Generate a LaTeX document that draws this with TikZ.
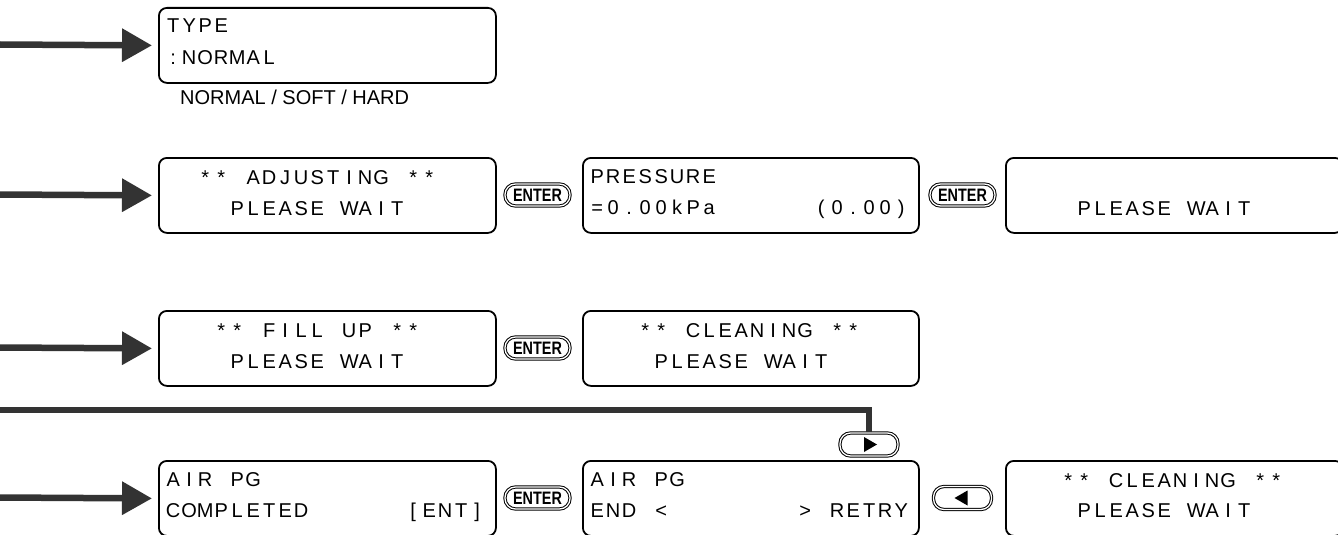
\documentclass[tikz,border=0pt]{standalone}
\usepackage{fontspec}
\usepackage{graphicx}
\setmainfont{Liberation Sans}
\usetikzlibrary{arrows.meta}
\definecolor{feedgray}{HTML}{333333}
\newcommand\lcdfont{\fontsize{20pt}{20pt}\selectfont}
\ExplSyntaxOn
\NewDocumentCommand\lcd{m}{
  \str_map_inline:nn {#1}
   { \str_if_eq:nnTF {##1} {_} { \hbox_to_wd:nn {16pt} {} } { \hbox_to_wd:nn {16pt} { \hss ##1 \hss } } }
}
\ExplSyntaxOff
\tikzset{
  lcdbox/.style={draw=black, line width=1.8pt, rounded corners=8pt, minimum width=337pt, minimum height=75pt, anchor=north west, inner sep=0pt},
  lcdtxt/.style={anchor=base west, inner sep=0pt, font=\lcdfont},
  keybox/.style={draw=black, line width=1pt, double=white, double distance=1.3pt, rounded corners=10.5pt, inner sep=0pt},
  enterkey/.style={keybox, minimum width=65pt, minimum height=22pt, font=\bfseries\fontsize{18pt}{18pt}\selectfont},
  arrowkey/.style={keybox, minimum width=58pt, minimum height=23pt},
  feed/.style={line width=6.5pt, draw=feedgray, -{Triangle[length=30pt, width=32pt]}},
  route/.style={line width=6.5pt, draw=feedgray, line join=miter},
}
\newcommand\enterlabel{\scalebox{0.8}[1]{ENTER}}
\begin{document}
\begin{tikzpicture}[x=1pt, y=-1pt]
\useasboundingbox (0,0) rectangle (1338,535);
\clip (0,0) rectangle (1338,535);

% ---- row 1
\node[lcdbox] (r1a) at (158,7) {};
\node[lcdtxt] (r1a1) at ([xshift=7pt, yshift=-26pt]r1a.north west) {\lcd{TYPE}};
\node[lcdtxt] (r1a2) at ([xshift=7pt, yshift=-57pt]r1a.north west) {\lcd{:NORMAL}};
\node[anchor=base west, inner sep=0pt, font=\fontsize{20pt}{20pt}\selectfont] (opts) at (180,104) {NORMAL / SOFT / HARD};

% ---- row 2
\node[lcdbox] (r2a) at (158,157) {};
\node[lcdtxt] (r2a1) at ([xshift=7pt, yshift=-27pt]r2a.north west) {\lcd{__** ADJUSTING **}};
\node[lcdtxt] (r2a2) at ([xshift=7pt, yshift=-58pt]r2a.north west) {\lcd{____PLEASE WAIT}};
\node[enterkey] (e21) at (537.5,195) {\enterlabel};
\node[lcdbox, minimum width=336pt] (r2b) at (582,157) {};
\node[lcdtxt] (r2b1) at ([xshift=7pt, yshift=-26pt]r2b.north west) {\lcd{PRESSURE}};
\node[lcdtxt] (r2b2) at ([xshift=7pt, yshift=-57pt]r2b.north west) {\lcd{=0.00kPa______(0.00)}};
\node[enterkey] (e22) at (962.5,195) {\enterlabel};
\node[lcdbox] (r2c) at (1005,157) {};
\node[lcdtxt] (r2c2) at ([xshift=7pt, yshift=-58pt]r2c.north west) {\lcd{____PLEASE WAIT}};

% ---- row 3
\node[lcdbox] (r3a) at (158,310) {};
\node[lcdtxt] (r3a1) at ([xshift=7pt, yshift=-27pt]r3a.north west) {\lcd{___** FILL UP **}};
\node[lcdtxt] (r3a2) at ([xshift=7pt, yshift=-58pt]r3a.north west) {\lcd{____PLEASE WAIT}};
\node[enterkey] (e31) at (537.5,348) {\enterlabel};
\node[lcdbox, minimum width=336pt] (r3b) at (582,310) {};
\node[lcdtxt] (r3b1) at ([xshift=7pt, yshift=-27pt]r3b.north west) {\lcd{___** CLEANING **}};
\node[lcdtxt] (r3b2) at ([xshift=7pt, yshift=-58pt]r3b.north west) {\lcd{____PLEASE WAIT}};

% ---- row 4
\node[lcdbox] (r4a) at (158,460) {};
\node[lcdtxt] (r4a1) at ([xshift=7pt, yshift=-26pt]r4a.north west) {\lcd{AIR PG}};
\node[lcdtxt] (r4a2) at ([xshift=7pt, yshift=-57pt]r4a.north west) {\lcd{COMPLETED______[ENT]}};
\node[enterkey] (e41) at (537.5,498) {\enterlabel};
\node[lcdbox, minimum width=336pt] (r4b) at (582,460) {};
\node[lcdtxt] (r4b1) at ([xshift=7pt, yshift=-26pt]r4b.north west) {\lcd{AIR PG}};
\node[lcdtxt] (r4b2) at ([xshift=7pt, yshift=-57pt]r4b.north west) {\lcd{END <________> RETRY}};
\node[arrowkey] (kl) at (962.5,498) {};
\fill ([xshift=5pt, yshift=7.5pt]kl.center) -- ([xshift=5pt, yshift=-7.5pt]kl.center) -- ([xshift=-8pt]kl.center) -- cycle;
\node[lcdbox] (r4c) at (1005,460) {};
\node[lcdtxt] (r4c1) at ([xshift=7pt, yshift=-27pt]r4c.north west) {\lcd{___** CLEANING **}};
\node[lcdtxt] (r4c2) at ([xshift=7pt, yshift=-57pt]r4c.north west) {\lcd{____PLEASE WAIT}};
\node[arrowkey] (kr) at (869,444.5) {};
\fill ([xshift=-5pt, yshift=7.5pt]kr.center) -- ([xshift=-5pt, yshift=-7.5pt]kr.center) -- ([xshift=8pt]kr.center) -- cycle;

% ---- feed arrows
\coordinate (s1) at (0,44.5);
\coordinate (s2) at (0,194.5);
\coordinate (s3) at (0,347.5);
\coordinate (s4) at (0,497.5);
\coordinate (s5) at (0,410);
\draw[feed] (s1) -- ([xshift=-6pt]r1a.west);
\draw[feed] (s2) -- ([xshift=-6pt]r2a.west);
\draw[feed] (s3) -- ([xshift=-6pt]r3a.west);
\draw[feed] (s4) -- ([xshift=-6pt]r4a.west);
\draw[route] (s5) -| ([yshift=1pt]kr.north);
\end{tikzpicture}
\end{document}
